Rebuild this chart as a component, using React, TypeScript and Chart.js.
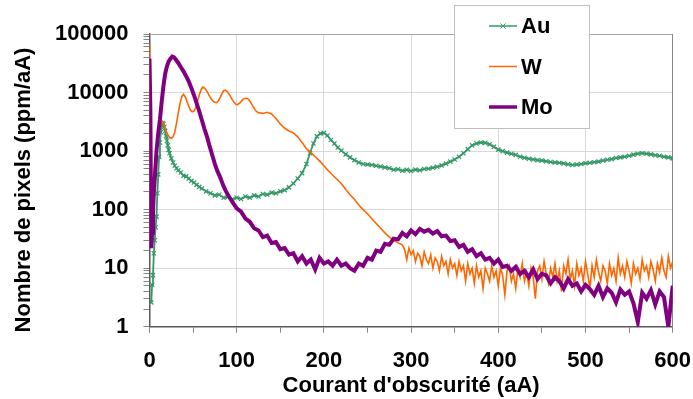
import { useEffect, useRef } from "react";
import { Chart, registerables } from "chart.js";

Chart.register(...registerables);

const FONT = "'Liberation Sans', Arial, Helvetica, sans-serif";

// ---- Data ----
const auX = [2, 3, 4, 5, 6, 7, 8, 9, 10, 11, 12, 13, 14, 15, 16, 17, 18, 19, 20, 21, 22, 23, 25, 27, 29, 31, 33, 36, 39, 42, 45, 48, 51, 54, 57, 60,
  65, 70, 75, 80, 85, 90, 95, 100, 105, 110, 115, 120, 125, 130, 135, 140, 145, 150, 155, 160, 165, 170, 175, 180, 184, 188, 192, 196, 200,
  204, 208, 212, 216, 220, 225, 230, 235, 240, 245, 250, 255, 260, 265, 270, 275, 280, 285, 290, 295, 300, 305, 310, 315, 320, 325, 330,
  335, 340, 345, 350, 355, 360, 365, 370, 375, 380, 385, 390, 395, 400, 405, 410, 415, 420, 425, 430, 435, 440, 445, 450, 455, 460, 465,
  470, 475, 480, 485, 490, 495, 500, 505, 510, 515, 520, 525, 530, 535, 540, 545, 550, 555, 560, 565, 570, 575, 580, 585, 590, 595, 600];
const auY = [2.6, 5.2, 7.6, 18, 30, 50, 76, 190, 400, 800, 1400, 2100, 2700, 3000, 2900, 2600, 2200, 1800, 1500, 1250, 1050, 920, 750, 640, 560, 510, 470, 430, 380, 370, 340, 310, 290, 265, 245, 230,
  205, 190, 175, 180, 160, 165, 150, 160, 152, 168, 160, 175, 168, 185, 180, 195, 190, 205, 215, 240, 280, 340, 420, 600, 920, 1350, 1780, 2000, 2050,
  1850, 1550, 1350, 1150, 1020, 880, 780, 700, 640, 600, 590, 580, 560, 545, 525, 510, 480, 490, 460, 478, 458, 482, 470, 495, 500, 520, 540,
  570, 610, 660, 720, 800, 920, 1080, 1250, 1350, 1400, 1380, 1300, 1180, 1060, 1000, 940, 900, 860, 800, 770, 740, 720, 700, 690, 670, 650, 640,
  630, 615, 595, 580, 590, 600, 620, 630, 645, 660, 690, 710, 730, 760, 780, 800, 830, 870, 900, 920, 900, 880, 850, 830, 800, 780, 750];

const wX = [0, 1, 2, 3, 5, 7, 9, 11, 13, 15, 17, 19, 21, 23, 25, 27, 29, 31, 33, 35, 37, 39, 41, 43, 45, 47, 49, 51, 53, 55, 57, 59, 61, 63, 65, 67, 69,
  71, 73, 75, 77, 79, 81, 83, 85, 87, 89, 91, 93, 95, 97, 99, 101, 103, 105, 107, 109, 111, 113, 115, 117, 119, 121, 123, 125,
  130, 135, 140, 145, 150, 155, 160, 165, 170, 175, 180, 185, 190, 195, 200, 205, 210, 215, 220, 225, 230, 235, 240, 245, 250, 255, 260,
  265, 270, 275, 280, 285,
  290, 292.5, 295, 297.5, 300, 302.5, 305, 307.5, 310, 312.5, 315, 317.5, 320, 322.5, 325, 327.5, 330, 332.5, 335, 337.5,
  340, 342.5, 345, 347.5, 350, 352.5, 355, 357.5, 360, 362.5, 365, 367.5, 370, 372.5, 375, 377.5, 380, 382.5, 385, 387.5,
  390, 392.5, 395, 397.5, 400, 402.5, 405, 407.5, 410, 412.5, 415, 417.5, 420, 422.5, 425, 427.5, 430, 432.5, 435, 437.5,
  440, 442.5, 445, 447.5, 450, 452.5, 455, 457.5, 460, 462.5, 465, 467.5, 470, 472.5, 475, 477.5, 480, 482.5, 485, 487.5,
  490, 492.5, 495, 497.5, 500, 502.5, 505, 507.5, 510, 512.5, 515, 517.5, 520, 522.5, 525, 527.5, 530, 532.5, 535, 537.5,
  540, 542.5, 545, 547.5, 550, 552.5, 555, 557.5, 560, 562.5, 565, 567.5, 570, 572.5, 575, 577.5, 580, 582.5, 585, 587.5,
  590, 592.5, 595, 597.5, 600];
const wY = [70000, 90, 130, 200, 420, 800, 1400, 2200, 3000, 3200, 2700, 2200, 1900, 1700, 1650, 1750, 2100, 3000, 4500, 6500, 8500, 9300, 8500, 7000, 5800, 5000, 4700, 4800, 5500, 7000, 9000, 11000, 12400, 12000, 11000, 9800, 8600,
  7700, 7100, 6800, 6700, 7200, 8200, 9500, 10800, 11000, 10500, 9500, 8500, 7500, 6800, 6300, 6200, 6500, 7000, 7600, 7900, 8000, 7800, 7200, 6400, 5700, 5100, 4700, 4500,
  4400, 4600, 4300, 3600, 2900, 2450, 2200, 2050, 1750, 1400, 1100, 950, 800, 680, 560, 460, 390, 330, 280, 220, 180, 150, 120, 100, 85, 70, 58,
  48, 40, 34, 30, 27,
  25, 21, 14, 22, 17, 20, 13, 18, 16, 11, 19, 14, 12, 17, 10, 15, 13, 9, 16, 11,
  13, 8, 14, 10, 12, 7.5, 13, 9, 11, 6, 12, 8, 10, 5.5, 11, 7, 9, 4.5, 10, 8,
  6, 11, 7, 9, 5, 10, 7.5, 3.5, 9, 11, 6, 8, 4.5, 10, 7, 12, 6, 8.5, 5, 10,
  7, 3, 9, 11, 6.5, 13, 8, 5.5, 10, 7, 12, 6, 9, 4, 11, 8, 14, 6.5, 9, 5,
  12, 7.5, 10, 6, 13, 8, 4.5, 11, 7, 14, 8.5, 6, 11, 9, 5.5, 12, 7.5, 10, 6, 15,
  8, 11, 7, 13, 9, 5.5, 12, 8, 10, 6.5, 14, 9, 11, 7, 13, 9.5, 6, 12, 8.5, 15,
  9, 7, 16, 10, 13];

const moX = [0, 1, 2, 3, 4, 5, 6, 8, 10, 12, 14, 16, 18, 20, 22, 24, 26, 28, 30, 33, 36, 39, 42, 45, 48, 51, 54, 57, 60, 63, 66, 69, 72, 75, 78, 81, 84, 87, 90,
  95, 100, 105, 110, 115, 120, 125, 130, 135, 140, 145, 150, 155, 160, 165, 170, 175, 180, 185, 190, 195, 200, 205, 210, 215, 220, 225,
  230, 235, 240, 245, 250, 255, 260, 265, 270, 275, 280, 285, 290, 295, 300, 305, 310, 315, 320, 325, 330, 335, 340, 345, 350, 355, 360,
  365, 370, 375, 380, 385, 390, 395, 400, 405, 410, 415, 420, 425, 430, 435, 440, 445, 450, 455, 460, 465, 470, 475, 480, 485, 490, 495,
  500, 505, 510, 515, 520, 525, 530, 535, 540, 545, 550, 555, 560, 565, 570, 575, 580, 585, 590, 595, 600];
const moY = [38000, 5000, 22, 40, 90, 200, 330, 1000, 2000, 3500, 7000, 13000, 21000, 28000, 34000, 38000, 41000, 40000, 37000, 32000, 27000, 23000, 19000, 15500, 12000, 9000, 6600, 4800, 3400, 2400, 1750, 1200, 850, 600, 450, 360, 270, 215, 178,
  135, 105, 92, 70, 62, 48, 44, 34, 36, 27, 28, 21, 22, 17, 18, 13, 16, 12, 14, 9.5, 15, 12, 13, 11, 14, 11, 12,
  10, 9, 12, 11, 15, 14, 20, 19, 26, 25, 32, 31, 40, 35, 44, 38, 47, 42, 45, 39, 43, 35, 36, 29, 30, 23, 25,
  19, 21, 16, 18, 14, 15, 12, 14, 10.5, 11, 9, 10.5, 8, 9, 7, 9.5, 6.5, 8, 7.5, 5.5, 7, 6, 4.5, 6.5, 5, 5.5, 4,
  5.2, 4.4, 3.5, 5, 3.2, 4.5, 3.8, 2.6, 4.3, 3.5, 4, 2.5, 1.2, 3.8, 3, 4.2, 2.4, 4, 3.2, 1.0, 5];

const seriesLabels = ["Au", "W", "Mo"];
const seriesColors = ["#339966", "#FF6600", "#800080"];

const yTickValues = [1, 2, 3, 4, 5, 6, 7, 8, 9, 10, 20, 30, 40, 50, 60, 70, 80, 90, 100, 200, 300, 400, 500, 600, 700, 800, 900,
  1000, 2000, 3000, 4000, 5000, 6000, 7000, 8000, 9000, 10000, 20000, 30000, 40000, 50000, 60000, 70000, 80000, 90000, 100000];
const yLabelValues = [1, 10, 100, 1000, 10000, 100000];
const xTickValues = [0, 50, 100, 150, 200, 250, 300, 350, 400, 450, 500, 550, 600];
const xLabelValues = [0, 100, 200, 300, 400, 500, 600];

const xTitle = "Courant d'obscurité (aA)";
const yTitle = "Nombre de pixels (ppm/aA)";

const toPoints = (xs: number[], ys: number[]) => xs.map((x, i) => ({ x, y: ys[i] }));

const decorPlugin = {
  id: "decor",
  beforeDatasetsDraw(chart: any) {
    const { ctx, chartArea } = chart;
    const { left, top, right, bottom } = chartArea;
    ctx.save();
    ctx.lineWidth = 1;
    ctx.strokeStyle = "#a6a6a6";
    ctx.beginPath();
    ctx.moveTo(left, Math.round(top) + 0.5);
    ctx.lineTo(right, Math.round(top) + 0.5);
    ctx.stroke();
    ctx.strokeStyle = "#868686";
    ctx.beginPath();
    ctx.moveTo(Math.round(right) - 0.5, top);
    ctx.lineTo(Math.round(right) - 0.5, bottom);
    ctx.stroke();
    ctx.restore();
  },
  afterDraw(chart: any) {
    const { ctx, chartArea } = chart;
    ctx.save();
    // y axis title
    ctx.font = `bold 22px ${FONT}`;
    ctx.fillStyle = "#000";
    ctx.textAlign = "center";
    ctx.textBaseline = "middle";
    ctx.translate(24, chartArea.top + 156);
    ctx.rotate(-Math.PI / 2);
    ctx.fillText(yTitle, 0, 0);
    ctx.restore();

    // legend box
    ctx.save();
    const bx = 454.5, by = 5.5, bw = 135, bh = 123;
    ctx.fillStyle = "#ffffff";
    ctx.fillRect(bx, by, bw, bh);
    ctx.strokeStyle = "#bfbfbf";
    ctx.lineWidth = 1;
    ctx.strokeRect(bx, by, bw, bh);
    const rowsY = [26, 66.5, 107];
    const widths = [1.5, 1.5, 3.5];
    chart.data.datasets.forEach((ds: any) => {
      const idx = seriesLabels.indexOf(ds.label);
      const y = rowsY[idx];
      ctx.strokeStyle = ds.borderColor;
      ctx.lineWidth = widths[idx];
      ctx.beginPath();
      ctx.moveTo(489, y);
      ctx.lineTo(517, y);
      ctx.stroke();
      if (idx === 0) {
        ctx.lineWidth = 1;
        const r = 2.5;
        ctx.beginPath();
        ctx.moveTo(503 - r, y - r);
        ctx.lineTo(503 + r, y + r);
        ctx.moveTo(503 - r, y + r);
        ctx.lineTo(503 + r, y - r);
        ctx.stroke();
      }
      ctx.fillStyle = "#000";
      ctx.font = `bold 22px ${FONT}`;
      ctx.textAlign = "left";
      ctx.textBaseline = "middle";
      ctx.fillText(ds.label, 521, y + 1);
    });
    ctx.restore();
  },
};

export default function App() {
  const canvasRef = useRef<HTMLCanvasElement | null>(null);

  useEffect(() => {
    document.body.style.margin = "0";
    const canvas = canvasRef.current;
    if (!canvas) return;
    const tickFont = { family: FONT, size: 22, weight: "bold" as const };
    const chart = new Chart(canvas, {
      type: "line",
      data: {
        datasets: [
          {
            label: seriesLabels[0],
            data: toPoints(auX, auY),
            borderColor: seriesColors[0],
            backgroundColor: seriesColors[0],
            borderWidth: 1.8,
            pointStyle: "crossRot",
            pointRadius: 3,
            pointBorderWidth: 1.2,
            pointBorderColor: seriesColors[0],
            tension: 0,
            order: 3,
          },
          {
            label: seriesLabels[1],
            data: toPoints(wX, wY),
            borderColor: seriesColors[1],
            backgroundColor: seriesColors[1],
            borderWidth: 1.6,
            pointRadius: 0,
            tension: 0,
            order: 2,
          },
          {
            label: seriesLabels[2],
            data: toPoints(moX, moY),
            borderColor: seriesColors[2],
            backgroundColor: seriesColors[2],
            borderWidth: 4,
            pointRadius: 0,
            tension: 0,
            order: 1,
          },
        ],
      },
      options: {
        responsive: false,
        animation: false,
        layout: { padding: { top: 34, right: 20.3, left: 0, bottom: 0 } },
        plugins: {
          legend: { display: false },
          tooltip: { enabled: false },
        },
        scales: {
          x: {
            type: "linear",
            min: 0,
            max: 600,
            afterFit: (s: any) => {
              s.height = 72.3;
              s.paddingLeft = 0;
              s.paddingRight = 0;
            },
            afterBuildTicks: (s: any) => {
              s.ticks = xTickValues.map((v) => ({ value: v }));
            },
            ticks: {
              autoSkip: false,
              maxRotation: 0,
              padding: 15,
              color: "#000",
              font: tickFont,
              callback: (v: any) => (xLabelValues.includes(Number(v)) ? String(v) : ""),
            },
            grid: {
              color: (c: any) => (c.tick && xLabelValues.includes(c.tick.value) ? "#d9d9d9" : "rgba(0,0,0,0)"),
              tickColor: "#868686",
              tickLength: 6,
              lineWidth: 1,
            },
            border: { color: "#595959", width: 1.5 },
            title: {
              display: true,
              text: xTitle,
              color: "#000",
              font: tickFont,
              padding: { top: 0, bottom: 0 },
            },
          },
          y: {
            type: "logarithmic",
            min: 1,
            max: 100000,
            afterFit: (s: any) => {
              s.width = 149.5;
              s.paddingTop = 0;
              s.paddingBottom = 0;
            },
            afterBuildTicks: (s: any) => {
              s.ticks = yTickValues.map((v) => ({ value: v, major: yLabelValues.includes(v) }));
            },
            ticks: {
              autoSkip: false,
              padding: 15,
              color: "#000",
              font: tickFont,
              callback: (v: any) => (yLabelValues.includes(Number(v)) ? String(v) : ""),
            },
            grid: {
              color: (c: any) => (c.tick && yLabelValues.includes(c.tick.value) ? "#d9d9d9" : "rgba(0,0,0,0)"),
              tickColor: "#868686",
              tickLength: 6,
              lineWidth: 1,
            },
            border: { color: "#595959", width: 1.5 },
          },
        },
      },
      plugins: [decorPlugin],
    });
    return () => chart.destroy();
  }, []);

  return (
    <div style={{ width: 693, height: 399, position: "relative" }}>
      <canvas ref={canvasRef} width={693} height={399} style={{ display: "block" }} />
    </div>
  );
}
